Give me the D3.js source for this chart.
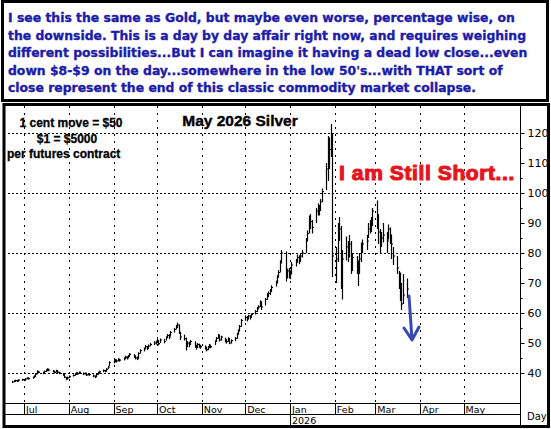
<!DOCTYPE html>
<html><head><meta charset="utf-8">
<script src="https://cdn.jsdelivr.net/npm/d3@7"></script>
<style>body{margin:0;background:#fff}svg{display:block}</style></head>
<body><svg id="c" width="551" height="429"></svg>
<script>
const noteLines=["I see this the same as Gold, but maybe even worse, percentage wise, on","the downside. This is a day by day affair right now, and requires weighing","different possibilities...But I can imagine it having a dead low close...even","down $8-$9 on the day...somewhere in the low 50's...with THAT sort of","close represent the end of this classic commodity market collapse."];
const monthLabels=["Jul","Aug","Sep","Oct","Nov","Dec","Jan","Feb","Mar","Apr","May"];
const yTicks=[40,50,60,70,80,90,100,110,120];
const gridY=[40,60,80,100,120];
const closes=[37.0,37.2,37.5,37.3,37.6, 37.8,37.6,38.0,38.3,38.1, 38.5,38.9,39.6,40.5,40.3, 40.0,40.5,40.8,41.2,41.0, 40.6,40.2,40.8,40.3,40.0, 39.5,38.6,38.0,38.4,38.8, 39.2,39.6,40.0,39.8,40.2, 39.7,39.9,39.4,39.6,39.5, 39.0,38.8,39.5,40.0,40.4, 40.8,40.6,41.2,42.0,43.5, 43.8,44.2,44.0,44.5,44.3, 44.8,45.3,45.0,45.6,46.2, 45.5,45.0,44.8,46.5,47.5, 48.0,48.8,48.2,49.0,49.5, 50.0,50.2,50.8,49.8,51.0, 50.5,51.8,52.5,52.0,53.5, 54.5,55.5,56.0,53.5,52.0, 51.5,49.0,50.0,49.5,50.5, 49.0,48.5,49.5,49.0,48.8, 48.5,47.8,48.5,49.2,48.8, 50.5,51.5,52.5,51.0,52.0, 51.0,50.5,51.5,50.0,50.8, 51.5,53.0,54.0,55.5,57.5, 58.5,58.0,59.0,58.5,59.5, 60.5,61.5,62.0,63.5,62.0, 64.5,66.0,66.5,67.5,68.5, 70.0,72.0,73.5,77.0,80.0, 72.0,74.0,72.5,73.0,76.0, 77.0,78.5,77.5,79.0,80.0, 84.0,86.5,91.0,90.5,88.5, 94.0,95.0,94.5,97.0,100.5, 108.0,110.0,114.5,116.0,79.0, 78.0,85.0,88.0,76.0,78.0, 82.0,80.0,83.0,77.0,78.5, 76.0,74.0,78.0,82.0,83.0, 84.0,88.0,89.0,90.0,94.0, 92.0,87.0,84.0,85.0,86.0, 84.0,88.0,86.0,83.0,79.0, 75,71,66,63,66, 68];
const highs=[37.4,37.6,37.8,37.7,37.9, 38.1,38.0,38.3,38.6,38.5, 38.8,39.2,39.9,40.9,40.7, 40.4,40.8,41.2,41.6,41.4, 41.0,40.7,41.1,40.8,40.4, 40.0,39.6,38.7,38.8,39.2, 39.5,39.9,40.3,40.2,40.5, 40.2,40.2,39.9,39.9,39.9, 39.5,39.2,39.8,40.4,40.8, 41.2,41.0,41.6,42.4,43.9, 44.3,44.6,44.5,44.9,44.8, 45.2,45.8,45.6,46.0,46.6, 46.3,45.9,45.5,46.9,47.9, 48.5,49.3,49.0,49.5,50.0, 50.6,50.8,51.3,50.9,51.5, 51.4,52.2,53.0,53.0,54.0, 55.0,56.0,56.8,56.2,53.8, 52.8,51.8,50.6,50.4,51.0, 50.6,49.4,50.0,49.8,49.4, 49.2,48.8,49.0,49.7,49.4, 50.9,52.0,53.0,52.8,52.4, 51.8,51.2,51.9,51.6,51.2, 52.0,53.4,54.5,56.0,58.0, 59.2,59.0,59.4,59.3,59.9, 61.0,62.0,62.6,64.2,64.0, 65.0,66.6,67.2,68.0,69.2, 70.8,72.6,74.3,77.6,81.0, 80.5,74.8,75.0,74.2,77.0, 78.0,79.5,79.2,79.8,81.0, 85.0,87.5,92.5,93.0,91.0, 95.0,96.5,96.0,98.0,101.5, 110.0,119.0,118.5,123.0,120.0, 82.0,90.0,92.0,89.0,81.0, 85.5,84.0,86.0,84.0,80.0, 79.0,77.5,80.0,83.5,84.5, 86.0,90.0,91.0,92.0,95.0, 97.5,93.0,88.0,87.0,90.0, 87.0,89.5,88.5,86.0,82.0, 79,74,73.5,70,73, 71.5];
const lows=[36.7,36.9,37.0,37.0,37.2, 37.4,37.3,37.6,37.9,37.8, 38.1,38.4,38.9,39.6,39.9, 39.6,40.0,40.4,40.7,40.6, 40.2,39.8,40.2,39.9,39.6, 39.1,38.3,37.6,37.9,38.3, 38.8,39.1,39.5,39.4,39.7, 39.3,39.5,39.0,39.2,39.1, 38.6,38.3,38.8,39.4,39.8, 40.3,40.2,40.6,41.3,42.4, 43.2,43.6,43.5,43.9,43.8, 44.2,44.7,44.5,45.0,45.5, 45.0,44.5,44.3,45.0,46.5, 47.2,48.0,47.7,48.3,48.9, 49.3,49.5,50.0,49.2,50.0, 49.9,50.8,51.7,51.3,52.3, 53.5,54.5,55.0,53.0,51.0, 50.8,47.5,48.6,48.6,49.5, 48.4,47.8,48.4,48.4,48.1, 47.8,47.2,47.6,48.4,48.2, 49.3,50.4,51.4,50.5,50.8, 50.2,49.8,50.4,49.6,49.8, 50.6,51.4,52.8,54.0,55.4, 57.4,57.2,57.9,57.8,58.4, 59.5,60.3,61.2,62.0,61.0, 62.5,64.4,65.3,66.0,67.0, 68.8,70.0,71.8,73.5,76.5, 70.5,71.5,71.5,71.3,73.0, 75.5,76.8,76.3,77.0,78.5, 80.0,84.0,86.5,88.0,86.5, 90.0,92.5,92.5,94.0,97.0, 101.0,104.0,108.0,112.0,72.0, 70.0,77.0,84.0,68.0,64.5, 77.5,77.0,78.5,73.0,74.0, 73.0,69.0,73.0,77.0,80.0, 81.0,85.0,86.5,87.0,89.0, 88.0,83.0,80.0,82.0,83.5, 80.0,84.5,83.0,78.0,76.0, 73,68,64,61,63, 65];

const dates=[];{let d=new Date(2025,5,23);while(dates.length<closes.length){const w=d.getDay();if(w>0&&w<6)dates.push(new Date(d));d=new Date(d.getFullYear(),d.getMonth(),d.getDate()+1);}}

const svg=d3.select("#c");
const L=8,R=520,T=106,B=403;
const x=d3.scaleTime().domain([new Date(2025,5,20),new Date(2026,5,9)]).range([L,R]);
const y=d3.scaleLinear().domain([40,120]).range([373,133]);

svg.append("rect").attr("x",2.5).attr("y",1.5).attr("width",545).attr("height",99).attr("fill","#fff").attr("stroke","#000").attr("stroke-width",3);
svg.append("g").selectAll("text").data(noteLines).join("text").attr("x",8).attr("y",(d,i)=>22+i*17.6)
 .attr("font-family","Verdana, DejaVu Sans, sans-serif").attr("font-weight","bold").attr("font-size",12.4).attr("fill","#1c1ca8")
 .attr("stroke","#1c1ca8").attr("stroke-width",0.35).text(d=>d);

svg.append("rect").attr("x",4).attr("y",104.5).attr("width",544.5).attr("height",322).attr("fill","#fff").attr("stroke","#000").attr("stroke-width",3);
const months=monthLabels.map((m,i)=>new Date(2025,6+i,1));
const grid=svg.append("g").attr("shape-rendering","crispEdges");
grid.selectAll("line.v").data(months).join("line").attr("class","v").attr("x1",d=>Math.round(x(d))+.5).attr("x2",d=>Math.round(x(d))+.5).attr("y1",T).attr("y2",B)
 .attr("stroke","#000").attr("stroke-width",1.5).attr("stroke-dasharray","1.5,5.5");
grid.selectAll("line.h").data(gridY).join("line").attr("class","h").attr("x1",L).attr("x2",R).attr("y1",d=>Math.round(y(d))+.5).attr("y2",d=>Math.round(y(d))+.5)
 .attr("stroke","#000").attr("stroke-width",1.5).attr("stroke-dasharray","1.5,2.5");
const ya=svg.append("g").attr("transform",`translate(${R+.5},0)`).call(d3.axisRight(y).tickValues(yTicks).tickSize(4).tickPadding(3));
ya.select(".domain").remove();
ya.selectAll("text").attr("font-family","DejaVu Sans, sans-serif").attr("font-size",11);
svg.append("g").attr("transform",`translate(${R+.5},0)`).call(d3.axisRight(y).ticks(18).tickSize(2).tickFormat("")).select(".domain").remove();
svg.append("line").attr("x1",R+.5).attr("x2",R+.5).attr("y1",105).attr("y2",426).attr("stroke","#000");
svg.append("line").attr("x1",4).attr("x2",R).attr("y1",B+.5).attr("y2",B+.5).attr("stroke","#000");
svg.append("line").attr("x1",4).attr("x2",R).attr("y1",414.5).attr("y2",414.5).attr("stroke","#000");
svg.append("g").selectAll("line").data(months).join("line").attr("x1",d=>Math.round(x(d))+.5).attr("x2",d=>Math.round(x(d))+.5).attr("y1",B).attr("y2",414).attr("stroke","#000");
svg.append("g").selectAll("text").data(months).join("text").attr("x",(d)=>x(d)+2).attr("y",412.5).attr("font-family","DejaVu Sans, sans-serif").attr("font-size",9.5).text((d,i)=>monthLabels[i]);
svg.append("line").attr("x1",Math.round(x(months[6]))+.5).attr("x2",Math.round(x(months[6]))+.5).attr("y1",414).attr("y2",425).attr("stroke","#000");
svg.append("text").attr("x",x(months[6])+2).attr("y",423.5).attr("font-family","DejaVu Sans, sans-serif").attr("font-size",9.5).text("2026");
svg.append("text").attr("x",527).attr("y",420).attr("font-family","DejaVu Sans, sans-serif").attr("font-size",10).text("Day");

const bars=svg.append("g").attr("stroke","#000").attr("stroke-width",1.2);
dates.forEach((d,i)=>{const cx=Math.round(x(d))+.5;
 bars.append("line").attr("x1",cx).attr("x2",cx).attr("y1",y(highs[i])).attr("y2",y(lows[i]));
 bars.append("line").attr("x1",cx).attr("x2",cx+1.5).attr("y1",y(closes[i])).attr("y2",y(closes[i]));});

const bf="Liberation Sans, Arial, sans-serif";
const ann=svg.append("g").attr("font-family",bf).attr("font-weight","bold").attr("font-size",12).attr("stroke","#000").attr("stroke-width",0.3);
ann.append("text").attr("x",71).attr("y",127).attr("text-anchor","middle").text("1 cent move = $50");
ann.append("text").attr("x",67).attr("y",143).attr("text-anchor","middle").text("$1 = $5000");
ann.append("text").attr("x",7).attr("y",158).text("per futures contract");
svg.append("text").attr("x",240).attr("y",126).attr("text-anchor","middle").attr("font-family",bf).attr("font-weight","bold").attr("font-size",15.5).attr("stroke","#000").attr("stroke-width",0.4).text("May 2026 Silver");
svg.append("text").attr("x",339).attr("y",180).attr("font-family",bf).attr("font-weight","bold").attr("font-size",21).attr("letter-spacing",0.6).attr("fill","#e8141c")
 .attr("stroke","#e8141c").attr("stroke-width",1.1).text("I am Still Short...");
const ac="#3848b0";
svg.append("path").attr("d","M409,296 L412,340 M404,328 L412,340 L419,327").attr("fill","none").attr("stroke",ac).attr("stroke-width",3).attr("stroke-linejoin","round").attr("stroke-linecap","round");
</script></body></html>
